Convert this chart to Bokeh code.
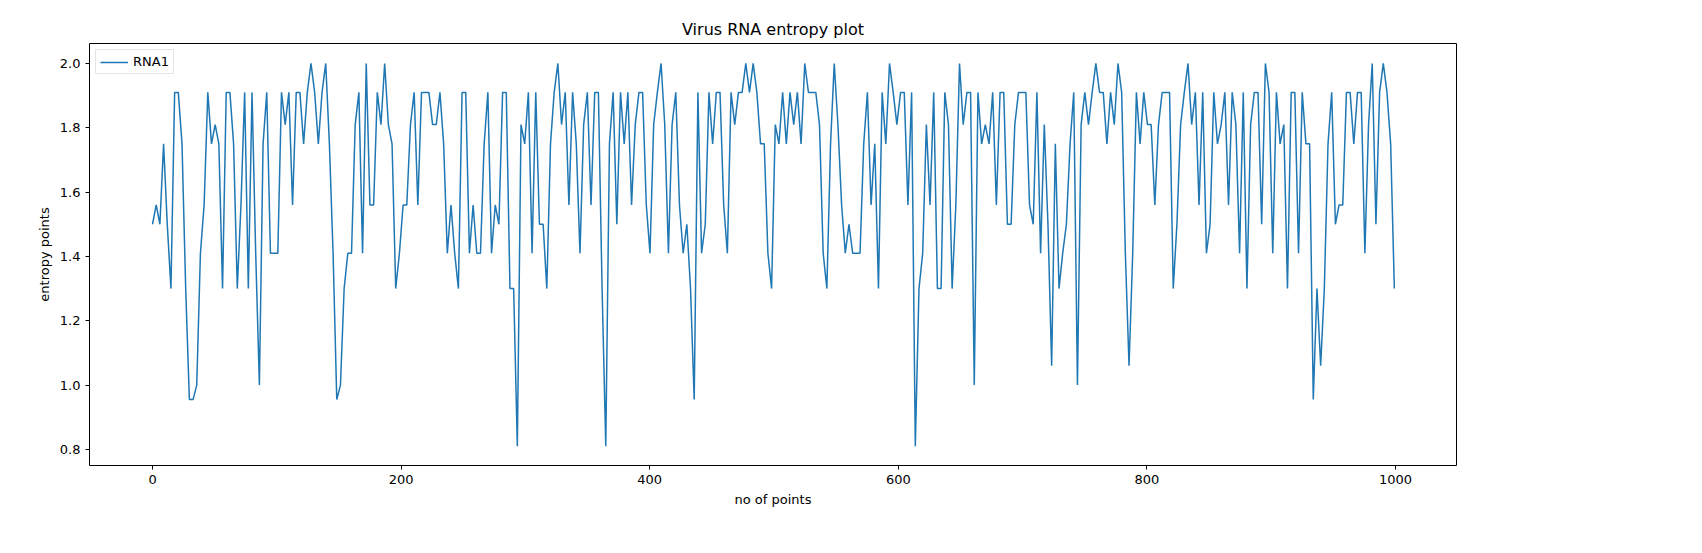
import numpy as np
from bokeh.plotting import figure
from bokeh.models import FixedTicker, NumeralTickFormatter, Range1d, Legend
from bokeh.embed import file_html
from bokeh.resources import INLINE

series_name = "RNA1"
entropy = [
 1.5,1.56,1.5,1.75,1.5,1.3,1.91,1.91,1.75,1.3,0.955,0.955,1.0,1.41,1.56,1.91,1.75,1.81,1.75,1.3,1.91,1.91,1.75,1.3,1.56,1.91,1.3,1.91,1.41,1.0,1.75,1.91,1.41,1.41,
 1.41,1.91,1.81,1.91,1.56,1.91,1.91,1.75,1.91,2.0,1.91,1.75,1.91,2.0,1.75,1.41,0.955,1.0,1.3,1.41,1.41,1.81,1.91,1.41,2.0,1.56,1.56,1.91,1.81,2.0,1.81,1.75,1.3,
 1.41,1.56,1.56,1.81,1.91,1.56,1.91,1.91,1.91,1.81,1.81,1.91,1.75,1.41,1.56,1.41,1.3,1.91,1.91,1.41,1.56,1.41,1.41,1.75,1.91,1.41,1.56,1.5,1.91,1.91,1.3,1.3,0.81,
 1.81,1.75,1.91,1.41,1.91,1.5,1.5,1.3,1.75,1.91,2.0,1.81,1.91,1.56,1.91,1.75,1.41,1.81,1.91,1.56,1.91,1.91,1.3,0.81,1.75,1.91,1.5,1.91,1.75,1.91,1.56,1.81,1.91,
 1.91,1.56,1.41,1.81,1.91,2.0,1.81,1.41,1.81,1.91,1.56,1.41,1.5,1.3,0.955,1.91,1.41,1.5,1.91,1.75,1.91,1.91,1.56,1.41,1.91,1.81,1.91,1.91,2.0,1.91,2.0,1.91,1.75,
 1.75,1.41,1.3,1.81,1.75,1.91,1.75,1.91,1.81,1.91,1.75,2.0,1.91,1.91,1.91,1.81,1.41,1.3,1.75,2.0,1.81,1.56,1.41,1.5,1.41,1.41,1.41,1.75,1.91,1.56,1.75,1.3,1.91,
 1.75,2.0,1.91,1.81,1.91,1.91,1.56,1.91,0.81,1.3,1.41,1.81,1.56,1.91,1.3,1.3,1.91,1.81,1.3,1.56,2.0,1.81,1.91,1.91,1.0,1.91,1.75,1.81,1.75,1.91,1.56,1.91,1.91,
 1.5,1.5,1.81,1.91,1.91,1.91,1.56,1.5,1.91,1.41,1.81,1.5,1.06,1.75,1.3,1.41,1.5,1.75,1.91,1.0,1.81,1.91,1.81,1.91,2.0,1.91,1.91,1.75,1.91,1.81,2.0,1.91,1.41,
 1.06,1.41,1.91,1.75,1.91,1.81,1.81,1.56,1.81,1.91,1.91,1.91,1.3,1.5,1.81,1.91,2.0,1.81,1.91,1.56,1.91,1.41,1.5,1.91,1.75,1.81,1.91,1.56,1.91,1.81,1.41,1.91,1.3,
 1.81,1.91,1.91,1.5,2.0,1.91,1.41,1.91,1.75,1.81,1.3,1.91,1.91,1.41,1.91,1.75,1.75,0.955,1.3,1.06,1.3,1.75,1.91,1.5,1.56,1.56,1.91,1.91,1.75,1.91,1.91,1.41,1.81,2.0,1.5,1.91,2.0,1.91,1.75,1.3,
]
x_ticks = [0, 200, 400, 600, 800, 1000]
y_ticks = [0.8, 1.0, 1.2, 1.4, 1.6, 1.8, 2.0]

n = len(entropy)
xs = np.linspace(0, 999, n)

p = figure(width=1686, height=537, output_backend="svg", toolbar_location=None,
           x_range=Range1d(-50.7, 1049), y_range=Range1d(0.750, 2.062),
           min_border_left=89, min_border_right=230, min_border_top=43, min_border_bottom=72,
           title="Virus RNA entropy plot")
p.title.align = "center"
p.title.text_font = "DejaVu Sans"
p.title.text_font_size = "16px"
p.title.text_font_style = "normal"
p.title.text_color = "black"
r = p.line(xs, entropy, line_color="#1f77b4", line_width=1.5)
p.xgrid.visible = False
p.ygrid.visible = False
p.outline_line_color = "black"
p.xaxis.ticker = FixedTicker(ticks=x_ticks)
p.yaxis.ticker = FixedTicker(ticks=y_ticks)
p.yaxis.formatter = NumeralTickFormatter(format="0.0")
for ax in (p.xaxis[0], p.yaxis[0]):
    ax.minor_tick_line_color = None
    ax.major_tick_in = 0
    ax.major_tick_out = 4
    ax.major_tick_line_color = "black"
    ax.major_label_text_font = "DejaVu Sans"
    ax.major_label_text_font_size = "13px"
    ax.major_label_text_color = "black"
    ax.axis_label_text_font = "DejaVu Sans"
    ax.axis_label_text_font_size = "13px"
    ax.axis_label_text_font_style = "normal"
    ax.axis_label_text_color = "black"
    ax.axis_line_color = None
p.xaxis.axis_label = "no of points"
p.yaxis.axis_label = "entropy points"
legend = Legend(items=[(series_name, [r])], location="top_left")
legend.label_text_font = "DejaVu Sans"
legend.label_text_font_size = "13px"
legend.label_text_color = "black"
legend.border_line_color = "#cccccc"
legend.padding = 4
legend.spacing = 0
legend.margin = 6
legend.glyph_width = 28
legend.glyph_height = 14
p.add_layout(legend)

open("out.html", "w").write(file_html(p, INLINE))
